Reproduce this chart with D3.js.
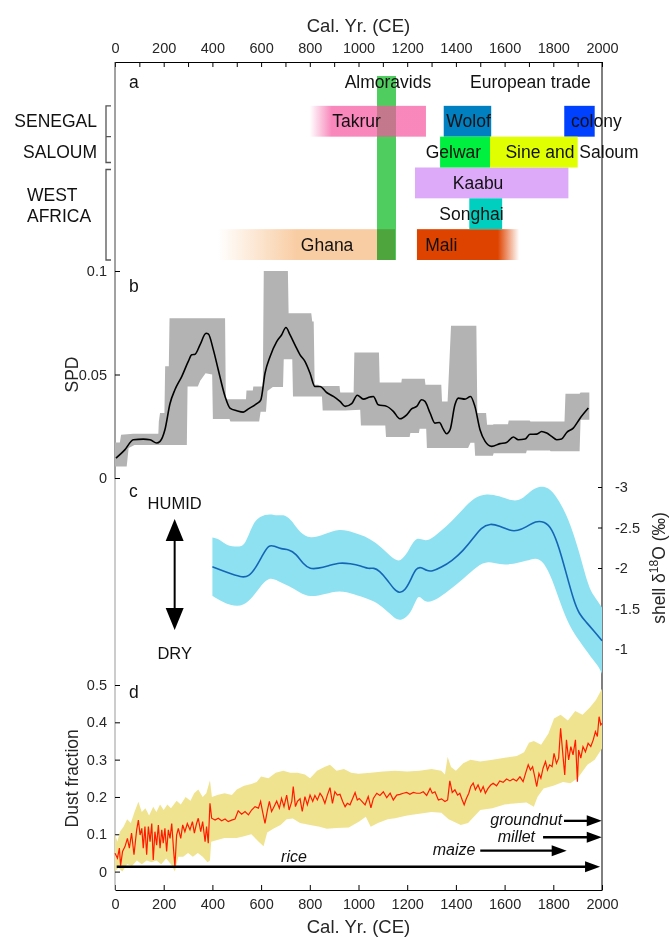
<!DOCTYPE html>
<html>
<head>
<meta charset="utf-8">
<script src="https://cdn.jsdelivr.net/npm/d3@7"></script>
<style>
  body { margin: 0; background: #fff; }
  svg { font-family: "Liberation Sans", Arial, sans-serif; }
  .axis text { fill: #262626; font-size: 14.5px; font-family: "Liberation Sans", Arial, sans-serif; }
  .axis line, .axis path { stroke: #000; }
</style>
</head>
<body>
<div id="chart"></div>
<script>
// page setup
var width = 670, height = 937;
var left = 115, right = 602;

// ---------------- data ----------------
// panel a : polities (years CE), solidFrom / solidTo = where the faded bar becomes solid
var rows = ['top', 'senegal', 'saloum', 'kaabu', 'songhai', 'ghana'];
var polities = [
  {name: 'Ghana',           row: 'ghana',   start: 423,  end: 1150, solidFrom: 745,  label: 871},
  {name: 'Mali',            row: 'ghana',   start: 1240, end: 1660, solidTo: 1572,   label: 1340},
  {name: 'Kaabu',           row: 'kaabu',   start: 1232, end: 1862, label: 1491},
  {name: 'Songhai',         row: 'songhai', start: 1455, end: 1590, label: 1464},
  {name: 'Wolof',           row: 'senegal', start: 1350, end: 1545, label: 1452},
  {name: 'colony',          row: 'senegal', start: 1845, end: 1970, label: 1977},
  {name: 'Gelwar',          row: 'saloum',  start: 1335, end: 1540, label: 1390},
  {name: 'Sine and Saloum', row: 'saloum',  start: 1540, end: 1900, label: 1877}
];
var takrur = {name: 'Takrur', row: 'senegal', start: 800, end: 1277, solidFrom: 890, label: 992};
var almoravids = {name: 'Almoravids', start: 1076, end: 1154, label: 1121};
var europeanTrade = {name: 'European trade', label: 1706};
var regionGroups = [
  {lines: ['SENEGAL'], rows: ['senegal']},
  {lines: ['SALOUM'], rows: ['saloum']},
  {lines: ['WEST', 'AFRICA'], rows: ['kaabu', 'songhai', 'ghana']}
];

// panel b : summed probability distribution
var spd = [[4,0.0096],[41,0.0137],[75,0.0185],[116,0.0188],[144,0.0185],[171,0.0169],[185,0.0177],[205,0.0233],[226,0.036],[246,0.0426],[274,0.049],[301,0.0563],[315,0.0595],[329,0.0598],[349,0.0643],[374,0.0699],[383,0.0696],[404,0.0619],[424,0.0523],[452,0.0394],[472,0.0338],[500,0.0325],[527,0.0318],[548,0.0334],[582,0.0359],[599,0.0378],[616,0.0506],[637,0.0587],[664,0.0659],[684,0.0691],[702,0.0727],[719,0.0691],[739,0.0643],[760,0.0595],[780,0.0563],[801,0.0506],[821,0.0442],[842,0.0442],[869,0.0413],[897,0.0394],[924,0.037],[945,0.0346],[972,0.0359],[995,0.04],[1020,0.0381],[1047,0.0391],[1061,0.0394],[1081,0.0354],[1116,0.0346],[1143,0.0322],[1170,0.0286],[1198,0.0305],[1218,0.0334],[1239,0.0346],[1259,0.0378],[1273,0.037],[1294,0.0314],[1314,0.0265],[1332,0.0268],[1348,0.0236],[1362,0.0214],[1376,0.0233],[1396,0.0354],[1410,0.0386],[1437,0.0381],[1460,0.0394],[1478,0.0346],[1499,0.0233],[1520,0.0177],[1547,0.0153],[1581,0.0166],[1608,0.0172],[1636,0.0198],[1656,0.0185],[1684,0.0188],[1704,0.0211],[1732,0.0212],[1752,0.0225],[1773,0.0217],[1793,0.0201],[1814,0.0185],[1834,0.0188],[1855,0.022],[1882,0.0241],[1910,0.0289],[1944,0.0338]];
var spdUpper = [[0,0.0172],[20,0.0172],[25,0.0209],[75,0.0214],[178,0.0214],[180,0.0273],[185,0.0314],[203,0.0314],[206,0.054],[221,0.054],[224,0.0772],[452,0.0772],[455,0.0381],[538,0.0381],[540,0.0423],[566,0.0423],[568,0.0442],[607,0.0442],[611,0.1],[710,0.1],[713,0.0796],[806,0.0796],[810,0.0756],[816,0.0756],[820,0.045],[835,0.045],[838,0.0445],[922,0.0445],[925,0.0413],[980,0.0413],[983,0.0606],[1084,0.0606],[1087,0.0461],[1176,0.0461],[1178,0.0479],[1272,0.0479],[1275,0.045],[1340,0.045],[1343,0.037],[1366,0.037],[1380,0.0735],[1484,0.0735],[1488,0.0314],[1524,0.0314],[1528,0.0257],[1552,0.0257],[1555,0.026],[1614,0.026],[1617,0.0278],[1703,0.0278],[1706,0.0273],[1846,0.0273],[1850,0.0407],[1908,0.0407],[1912,0.0413],[1948,0.0413]];
var spdLower = [[0,0.0056],[48,0.0056],[56,0.0145],[80,0.016],[295,0.016],[298,0.0442],[340,0.0442],[350,0.047],[372,0.0506],[399,0.05],[402,0.0285],[470,0.0285],[474,0.0273],[592,0.0273],[598,0.032],[620,0.032],[626,0.042],[648,0.044],[690,0.044],[693,0.0574],[728,0.0574],[731,0.0394],[850,0.0394],[853,0.0326],[945,0.0326],[1007,0.033],[1010,0.0254],[1110,0.0254],[1113,0.0198],[1210,0.0198],[1213,0.0217],[1248,0.0217],[1251,0.0238],[1278,0.0238],[1281,0.0145],[1450,0.0145],[1460,0.017],[1476,0.017],[1479,0.0108],[1552,0.0108],[1555,0.012],[1688,0.012],[1691,0.0133],[1786,0.0133],[1789,0.0129],[1908,0.0129],[1912,0.0281],[1948,0.0281]];

// panel c : shell d18O (per mil)
var d18O = [[400,-2.014],[459,-1.945],[519,-1.883],[549,-1.891],[579,-2.006],[608,-2.17],[631,-2.285],[653,-2.273],[683,-2.232],[713,-2.232],[743,-2.179],[773,-2.047],[802,-1.986],[832,-1.994],[877,-2.027],[922,-2.068],[966,-2.055],[1011,-2.027],[1041,-1.986],[1063,-2.006],[1086,-1.965],[1116,-1.862],[1145,-1.739],[1168,-1.686],[1190,-1.719],[1213,-1.842],[1235,-1.998],[1257,-2.014],[1280,-1.965],[1302,-1.957],[1339,-2.006],[1384,-2.088],[1429,-2.211],[1474,-2.376],[1503,-2.499],[1541,-2.552],[1578,-2.52],[1623,-2.458],[1653,-2.458],[1690,-2.507],[1727,-2.581],[1764,-2.573],[1794,-2.491],[1824,-2.253],[1854,-1.924],[1884,-1.595],[1906,-1.431],[1936,-1.329],[1966,-1.226],[2000,-1.103]];
var d18OHi = [[400,-2.376],[430,-2.355],[459,-2.273],[504,-2.261],[534,-2.273],[564,-2.54],[594,-2.643],[638,-2.671],[668,-2.643],[698,-2.663],[728,-2.581],[758,-2.437],[802,-2.355],[862,-2.417],[922,-2.491],[981,-2.437],[1026,-2.396],[1071,-2.314],[1116,-2.191],[1160,-2.068],[1183,-2.121],[1205,-2.211],[1235,-2.376],[1257,-2.355],[1287,-2.326],[1339,-2.458],[1384,-2.581],[1429,-2.725],[1474,-2.869],[1526,-2.922],[1578,-2.889],[1630,-2.828],[1668,-2.836],[1705,-2.951],[1742,-3.012],[1779,-3.0],[1817,-2.869],[1861,-2.622],[1906,-2.211],[1943,-1.78],[1966,-1.657],[2000,-1.513]];
var d18OLo = [[400,-1.657],[444,-1.575],[504,-1.513],[549,-1.575],[594,-1.76],[631,-1.891],[668,-1.842],[713,-1.78],[758,-1.698],[802,-1.637],[862,-1.678],[922,-1.727],[981,-1.678],[1041,-1.616],[1086,-1.554],[1131,-1.431],[1160,-1.349],[1190,-1.37],[1220,-1.472],[1242,-1.657],[1257,-1.637],[1280,-1.563],[1324,-1.616],[1369,-1.719],[1429,-1.862],[1488,-2.027],[1533,-2.088],[1578,-2.039],[1638,-2.047],[1690,-2.088],[1727,-2.129],[1757,-2.088],[1794,-1.883],[1839,-1.472],[1876,-1.226],[1921,-1.041],[1966,-0.856],[1988,-0.774],[2000,-0.692]];

// panel d : dust fraction
var dust = [[0,0.049],[10,0.036],[18,0.063],[23,0.016],[31,0.054],[41,0.067],[51,0.089],[59,0.063],[68,0.103],[78,0.045],[89,0.112],[96,0.138],[103,0.098],[110,0.116],[116,0.063],[123,0.121],[130,0.045],[137,0.121],[144,0.08],[151,0.129],[157,0.031],[164,0.107],[171,0.071],[178,0.125],[185,0.063],[192,0.112],[198,0.076],[205,0.116],[212,0.054],[219,0.112],[226,0.089],[233,0.129],[240,0.063],[246,0.013],[253,0.098],[260,0.116],[270,0.089],[278,0.125],[287,0.107],[297,0.129],[308,0.112],[318,0.134],[326,0.103],[335,0.129],[342,0.143],[352,0.107],[360,0.134],[370,0.08],[376,0.121],[383,0.076],[390,0.183],[397,0.143],[411,0.138],[424,0.143],[438,0.136],[452,0.141],[465,0.134],[479,0.138],[493,0.141],[506,0.163],[520,0.154],[534,0.161],[548,0.152],[561,0.165],[575,0.174],[589,0.17],[598,0.188],[606,0.161],[616,0.129],[626,0.165],[634,0.188],[643,0.161],[653,0.174],[664,0.189],[675,0.17],[684,0.196],[694,0.174],[705,0.205],[715,0.165],[726,0.188],[732,0.228],[741,0.174],[749,0.188],[760,0.195],[769,0.161],[780,0.201],[790,0.179],[801,0.205],[812,0.188],[821,0.204],[831,0.192],[842,0.21],[851,0.201],[862,0.183],[872,0.205],[883,0.225],[893,0.183],[903,0.214],[913,0.205],[924,0.207],[935,0.188],[945,0.174],[954,0.183],[965,0.179],[976,0.196],[986,0.212],[995,0.192],[1003,0.196],[1013,0.189],[1027,0.179],[1040,0.201],[1051,0.171],[1061,0.196],[1075,0.21],[1088,0.204],[1102,0.214],[1116,0.198],[1130,0.21],[1143,0.192],[1157,0.205],[1170,0.207],[1184,0.21],[1198,0.212],[1211,0.207],[1225,0.212],[1239,0.21],[1253,0.21],[1266,0.214],[1280,0.204],[1294,0.223],[1303,0.21],[1314,0.214],[1328,0.192],[1341,0.195],[1355,0.188],[1366,0.192],[1375,0.243],[1385,0.212],[1396,0.219],[1407,0.205],[1416,0.21],[1426,0.192],[1434,0.179],[1443,0.196],[1453,0.21],[1461,0.228],[1471,0.237],[1480,0.219],[1491,0.232],[1502,0.214],[1512,0.228],[1521,0.21],[1532,0.223],[1543,0.232],[1553,0.237],[1567,0.23],[1580,0.243],[1594,0.239],[1608,0.248],[1622,0.243],[1635,0.248],[1649,0.243],[1663,0.254],[1676,0.241],[1686,0.263],[1697,0.286],[1706,0.272],[1715,0.281],[1724,0.254],[1732,0.228],[1741,0.263],[1749,0.25],[1758,0.277],[1768,0.295],[1776,0.272],[1785,0.286],[1795,0.281],[1803,0.317],[1813,0.29],[1822,0.304],[1830,0.384],[1840,0.308],[1847,0.259],[1854,0.353],[1863,0.299],[1872,0.335],[1881,0.313],[1891,0.353],[1899,0.241],[1904,0.326],[1913,0.304],[1922,0.335],[1932,0.321],[1943,0.344],[1954,0.335],[1964,0.353],[1973,0.375],[1981,0.362],[1988,0.415],[1995,0.393],[2000,0.397]];
var dustHi = [[0,0.10],[10,0.08],[20,0.107],[35,0.12],[50,0.14],[65,0.13],[80,0.16],[96,0.187],[110,0.16],[125,0.17],[140,0.15],[157,0.174],[170,0.16],[185,0.18],[200,0.165],[215,0.18],[230,0.17],[253,0.19],[270,0.18],[290,0.2],[310,0.19],[325,0.21],[342,0.22],[360,0.2],[375,0.21],[390,0.245],[398,0.2],[420,0.205],[450,0.21],[480,0.205],[500,0.22],[530,0.23],[560,0.235],[582,0.24],[600,0.255],[630,0.25],[660,0.265],[691,0.27],[720,0.265],[750,0.265],[780,0.26],[801,0.25],[830,0.27],[860,0.28],[883,0.286],[910,0.27],[940,0.275],[970,0.265],[1000,0.262],[1050,0.265],[1100,0.268],[1150,0.27],[1200,0.268],[1250,0.27],[1300,0.275],[1340,0.27],[1355,0.26],[1366,0.308],[1380,0.28],[1400,0.27],[1430,0.29],[1460,0.3],[1500,0.295],[1550,0.3],[1600,0.305],[1650,0.31],[1680,0.32],[1700,0.345],[1720,0.35],[1750,0.34],[1780,0.37],[1803,0.41],[1830,0.42],[1860,0.405],[1890,0.43],[1920,0.42],[1950,0.44],[1975,0.46],[2000,0.49]];
var dustLo = [[0,0.0],[15,0.01],[30,0.0],[50,0.02],[70,0.015],[90,0.03],[110,0.02],[130,0.03],[150,0.025],[170,0.03],[190,0.02],[210,0.035],[230,0.02],[246,0.0],[260,0.04],[280,0.04],[300,0.05],[320,0.04],[340,0.05],[360,0.04],[380,0.025],[390,0.03],[395,0.08],[420,0.085],[450,0.09],[480,0.09],[500,0.09],[530,0.095],[560,0.1],[590,0.08],[610,0.068],[625,0.105],[650,0.115],[680,0.125],[705,0.14],[730,0.142],[760,0.13],[801,0.125],[840,0.12],[870,0.115],[910,0.117],[960,0.118],[1003,0.134],[1030,0.147],[1050,0.12],[1080,0.13],[1120,0.14],[1150,0.143],[1200,0.15],[1250,0.155],[1300,0.16],[1340,0.158],[1370,0.14],[1420,0.125],[1450,0.13],[1500,0.165],[1550,0.17],[1600,0.18],[1650,0.183],[1690,0.185],[1720,0.174],[1735,0.2],[1760,0.223],[1800,0.23],[1840,0.24],[1870,0.237],[1900,0.25],[1940,0.286],[1970,0.3],[2000,0.33]];

// crops introduced (arrow from start to end at a dust level)
var crops = [
  {name: 'rice',      start: 7,    end: 1992, level: 0.013, labelYear: 735,  labelLevel: 0.026, anchor: 'middle'},
  {name: 'maize',     start: 1500, end: 1855, level: 0.056, labelYear: 1480, labelLevel: 0.045, anchor: 'end'},
  {name: 'millet',    start: 1758, end: 1999, level: 0.092, labelYear: 1725, labelLevel: 0.080, anchor: 'end'},
  {name: 'groundnut', start: 1844, end: 1999, level: 0.136, labelYear: 1837, labelLevel: 0.125, anchor: 'end'}
];

// tick values
var yearTicksTop = d3.range(0, 2001, 100);
var yearTicksBottom = d3.range(0, 2001, 200);
var spdTicks = [0, 0.05, 0.1];
var d18OTicks = [-3, -2.5, -2, -1.5, -1];
var dustTicks = [0, 0.1, 0.2, 0.3, 0.4, 0.5];

// colours
var polityColor = {
  'Ghana': '#f9cda4', 'Mali': '#df4300', 'Kaabu': '#dcaaf8', 'Songhai': '#00cfc0',
  'Wolof': '#0080c0', 'colony': '#0040ff', 'Gelwar': '#00f040', 'Sine and Saloum': '#e0ff00',
  'Takrur': '#f6549e', 'Almoravids': '#50cd5f'
};

// ---------------- scales ----------------
var x = d3.scaleLinear().domain([0, 2000]).range([left, right]);
var yRow = d3.scaleBand().domain(rows).range([75, 260]);
var yB = d3.scaleLinear().domain([0, 0.1]).range([478, 271]);
var yC = d3.scaleLinear().domain([-3, -1]).range([487, 649]);
var yD = d3.scaleLinear().domain([0, 0.5]).range([871.6, 685]);

var svg = d3.select("#chart")
  .append("svg")
  .attr("width", width)
  .attr("height", height);

var defs = svg.append("defs");

// ---------------- frame and axes ----------------
svg.append("g").attr("class", "axis")
  .attr("transform", "translate(0,62)")
  .call(d3.axisTop(x).tickValues(yearTicksTop).tickSizeInner(-5).tickSizeOuter(0).tickPadding(9)
    .tickFormat(function(d) { return d % 200 === 0 ? d : ''; }));

svg.append("g").attr("class", "axis")
  .attr("transform", "translate(0,890)")
  .call(d3.axisBottom(x).tickValues(yearTicksBottom).tickSizeInner(-5).tickSizeOuter(0).tickPadding(9)
    .tickFormat(function(d) { return d; }));

svg.append("line").attr("x1", left).attr("x2", left).attr("y1", 62).attr("y2", 479)
  .attr("stroke", "#444");
svg.append("line").attr("x1", left).attr("x2", left).attr("y1", 479).attr("y2", 890)
  .attr("stroke", "#999");
svg.append("line").attr("x1", right).attr("x2", right).attr("y1", 62).attr("y2", 890)
  .attr("stroke", "#000");

var axisB = svg.append("g").attr("class", "axis")
  .attr("transform", "translate(" + left + ",0)")
  .call(d3.axisLeft(yB).tickValues(spdTicks).tickSizeInner(-5).tickPadding(8)
    .tickFormat(function(d) { return String(d); }));
axisB.select(".domain").remove();

var axisC = svg.append("g").attr("class", "axis")
  .attr("transform", "translate(" + right + ",0)")
  .call(d3.axisRight(yC).tickValues(d18OTicks).tickSizeInner(-4).tickPadding(13)
    .tickFormat(function(d) { return String(d); }));
axisC.select(".domain").remove();

var axisD = svg.append("g").attr("class", "axis")
  .attr("transform", "translate(" + left + ",0)")
  .call(d3.axisLeft(yD).tickValues(dustTicks).tickSizeInner(-5).tickPadding(8)
    .tickFormat(function(d) { return String(d); }));
axisD.select(".domain").remove();

// axis titles
svg.append("text").attr("x", x(1000)).attr("y", 31.5).attr("text-anchor", "middle")
  .attr("font-size", 18.5).attr("fill", "#262626").text("Cal. Yr. (CE)");
svg.append("text").attr("x", x(1000)).attr("y", 933).attr("text-anchor", "middle")
  .attr("font-size", 18.5).attr("fill", "#262626").text("Cal. Yr. (CE)");
svg.append("text").attr("transform", "translate(78," + yB(0.05) + ") rotate(-90)")
  .attr("text-anchor", "middle").attr("font-size", 17.5).attr("fill", "#262626").text("SPD");
svg.append("text").attr("transform", "translate(78," + yD(0.25) + ") rotate(-90)")
  .attr("text-anchor", "middle").attr("font-size", 17.5).attr("fill", "#262626").text("Dust fraction");
var shellLabel = svg.append("text").attr("transform", "translate(665," + yC(-2) + ") rotate(-90)")
  .attr("text-anchor", "middle").attr("font-size", 17.5).attr("fill", "#262626");
shellLabel.append("tspan").text("shell \u03b4");
shellLabel.append("tspan").attr("font-size", 12).attr("dy", -7).text("18");
shellLabel.append("tspan").attr("dy", 7).text("O (\u2030)");

// panel letters
var letters = [['a', 82], ['b', 286], ['c', 491], ['d', 692]];
svg.selectAll(".panelLetter").data(letters).join("text")
  .attr("class", "panelLetter")
  .attr("x", 129).attr("y", function(d) { return d[1]; })
  .attr("dominant-baseline", "central")
  .attr("font-size", 17.5).attr("fill", "#111")
  .text(function(d) { return d[0]; });

// ---------------- panel a ----------------
function barGradient(p) {
  var id = "grad-" + p.name.replace(/\s/g, "");
  var g = defs.append("linearGradient").attr("id", id)
    .attr("gradientUnits", "userSpaceOnUse")
    .attr("x1", x(p.start)).attr("x2", x(p.end)).attr("y1", 0).attr("y2", 0);
  var span = p.end - p.start;
  var stops = [];
  if (p.solidFrom) stops = [[0, 0], [(p.solidFrom - p.start) / span, 1], [1, 1]];
  else if (p.solidTo) stops = [[0, 1], [(p.solidTo - p.start) / span, 1], [1, 0]];
  else stops = [[0, 1], [1, 1]];
  stops.forEach(function(s) {
    g.append("stop").attr("offset", s[0]).attr("stop-color", polityColor[p.name]).attr("stop-opacity", s[1]);
  });
  return "url(#" + id + ")";
}

var gA = svg.append("g");
gA.selectAll(".polity")
  .data(polities)
  .join("rect")
  .attr("class", "polity")
  .attr("x", function(d) { return x(d.start); })
  .attr("width", function(d) { return x(d.end) - x(d.start); })
  .attr("y", function(d) { return yRow(d.row); })
  .attr("height", yRow.bandwidth())
  .attr("fill", function(d) { return barGradient(d); });

// Almoravids band across all rows
gA.append("rect")
  .attr("x", x(almoravids.start)).attr("width", x(almoravids.end) - x(almoravids.start))
  .attr("y", yRow('top') + 1).attr("height", yRow('ghana') + yRow.bandwidth() - yRow('top') - 1)
  .attr("fill", polityColor['Almoravids'])
  .style("mix-blend-mode", "multiply");

// Takrur sits on top of the green band, partly transparent
gA.append("rect")
  .attr("x", x(takrur.start)).attr("width", x(takrur.end) - x(takrur.start))
  .attr("y", yRow(takrur.row)).attr("height", yRow.bandwidth())
  .attr("fill", barGradient(takrur)).attr("opacity", 0.7);

gA.selectAll(".polityLabel")
  .data(polities.concat([takrur]))
  .join("text")
  .attr("class", "polityLabel")
  .attr("x", function(d) { return x(d.label); })
  .attr("y", function(d) { return yRow(d.row) + yRow.bandwidth() / 2; })
  .attr("text-anchor", "middle").attr("dominant-baseline", "central")
  .attr("font-size", 17.5).attr("fill", "#111")
  .text(function(d) { return d.name; });

gA.selectAll(".topLabel")
  .data([almoravids, europeanTrade])
  .join("text")
  .attr("class", "topLabel")
  .attr("x", function(d) { return x(d.label); })
  .attr("y", yRow('top') + 7)
  .attr("text-anchor", "middle").attr("dominant-baseline", "central")
  .attr("font-size", 17.5).attr("fill", "#111")
  .text(function(d) { return d.name; });

// region groups with brackets
regionGroups.forEach(function(g, i) {
  var top = yRow(g.rows[0]), bottom = yRow(g.rows[g.rows.length - 1]) + yRow.bandwidth();
  var mid = (top + bottom) / 2;
  var multi = g.lines.length > 1;
  g.lines.forEach(function(t, j) {
    svg.append("text")
      .attr("x", multi ? 27 : 97)
      .attr("y", mid + (j - (g.lines.length - 1) / 2) * 21 - (multi ? 8 : 0))
      .attr("text-anchor", multi ? "start" : "end")
      .attr("dominant-baseline", "central")
      .attr("font-size", 17.5).attr("fill", "#111")
      .text(t);
  });
});
var bracketPath = d3.path();
var bTop = yRow('senegal'), bMid = yRow('saloum'), bBot = yRow('saloum') + yRow.bandwidth() - 5;
bracketPath.moveTo(111, bTop); bracketPath.lineTo(106, bTop); bracketPath.lineTo(106, bBot); bracketPath.lineTo(111, bBot);
bracketPath.moveTo(106, bMid); bracketPath.lineTo(111, bMid);
var wTop = yRow('kaabu') + 2, wBot = yRow('ghana') + yRow.bandwidth();
bracketPath.moveTo(111, wTop); bracketPath.lineTo(106, wTop); bracketPath.lineTo(106, wBot); bracketPath.lineTo(111, wBot);
svg.append("path").attr("d", bracketPath.toString()).attr("fill", "none").attr("stroke", "#555").attr("stroke-width", 1.3);

// ---------------- panel b ----------------
var lineB = d3.line().x(function(d) { return x(d[0]); }).y(function(d) { return yB(d[1]); });
svg.append("path")
  .attr("d", lineB(spdUpper.concat(spdLower.slice().reverse())) + "Z")
  .attr("fill", "#b3b3b3");
svg.append("path")
  .datum(spd)
  .attr("d", d3.line().curve(d3.curveMonotoneX).x(function(d) { return x(d[0]); }).y(function(d) { return yB(d[1]); }))
  .attr("fill", "none").attr("stroke", "#000").attr("stroke-width", 1.6);

// ---------------- panel c ----------------
var curveC = d3.line().curve(d3.curveBasis).x(function(d) { return x(d[0]); }).y(function(d) { return yC(d[1]); });
svg.append("path")
  .attr("d", curveC(d18OHi) + "L" + curveC(d18OLo.slice().reverse()).slice(1) + "Z")
  .attr("fill", "#8ee1f1");
svg.append("path")
  .datum(d18O)
  .attr("d", curveC)
  .attr("fill", "none").attr("stroke", "#1565b5").attr("stroke-width", 1.6);

// humid / dry arrow
var arrowYear = 245;
function headPoly(tx, ty, dx, dy, len, half) {
  // tip at (tx,ty), pointing along (dx,dy)
  var bx = tx - dx * len, by = ty - dy * len;
  return [[tx, ty], [bx - dy * half, by + dx * half], [bx + dy * half, by - dx * half]];
}
var ax = x(arrowYear), aTop = yC(-2.605), aBot = yC(-1.235);
svg.append("line").attr("x1", ax).attr("x2", ax).attr("y1", aTop + 15).attr("y2", aBot - 15)
  .attr("stroke", "#000").attr("stroke-width", 2);
svg.append("polygon").attr("points", headPoly(ax, aTop, 0, -1, 22, 9).join(" ")).attr("fill", "#000");
svg.append("polygon").attr("points", headPoly(ax, aBot, 0, 1, 22, 9).join(" ")).attr("fill", "#000");
svg.append("text").attr("x", ax).attr("y", yC(-2.8)).attr("text-anchor", "middle").attr("dominant-baseline", "central")
  .attr("font-size", 16.5).attr("fill", "#111").text("HUMID");
svg.append("text").attr("x", ax).attr("y", yC(-0.95)).attr("text-anchor", "middle").attr("dominant-baseline", "central")
  .attr("font-size", 16.5).attr("fill", "#111").text("DRY");

// ---------------- panel d ----------------
var lineD = d3.line().x(function(d) { return x(d[0]); }).y(function(d) { return yD(d[1]); });
svg.append("path")
  .attr("d", lineD(dustHi) + "L" + lineD(dustLo.slice().reverse()).slice(1) + "Z")
  .attr("fill", "#f0e38f");
svg.append("path")
  .datum(dust)
  .attr("d", lineD)
  .attr("fill", "none").attr("stroke", "#ff1a00").attr("stroke-width", 1.2);

var cropG = svg.selectAll(".crop").data(crops).join("g").attr("class", "crop");
cropG.append("line")
  .attr("x1", function(d) { return x(d.start); })
  .attr("x2", function(d) { return x(d.end) - 14; })
  .attr("y1", function(d) { return yD(d.level); })
  .attr("y2", function(d) { return yD(d.level); })
  .attr("stroke", "#000").attr("stroke-width", 2.3);
cropG.append("polygon")
  .attr("points", function(d) { return headPoly(x(d.end), yD(d.level), 1, 0, 15, 5.5).join(" "); })
  .attr("fill", "#000");
cropG.append("text")
  .attr("x", function(d) { return x(d.labelYear); })
  .attr("y", function(d) { return yD(d.labelLevel); })
  .attr("text-anchor", function(d) { return d.anchor; })
  .attr("font-size", 16).attr("font-style", "italic").attr("fill", "#111")
  .text(function(d) { return d.name; });
</script>
</body>
</html>
